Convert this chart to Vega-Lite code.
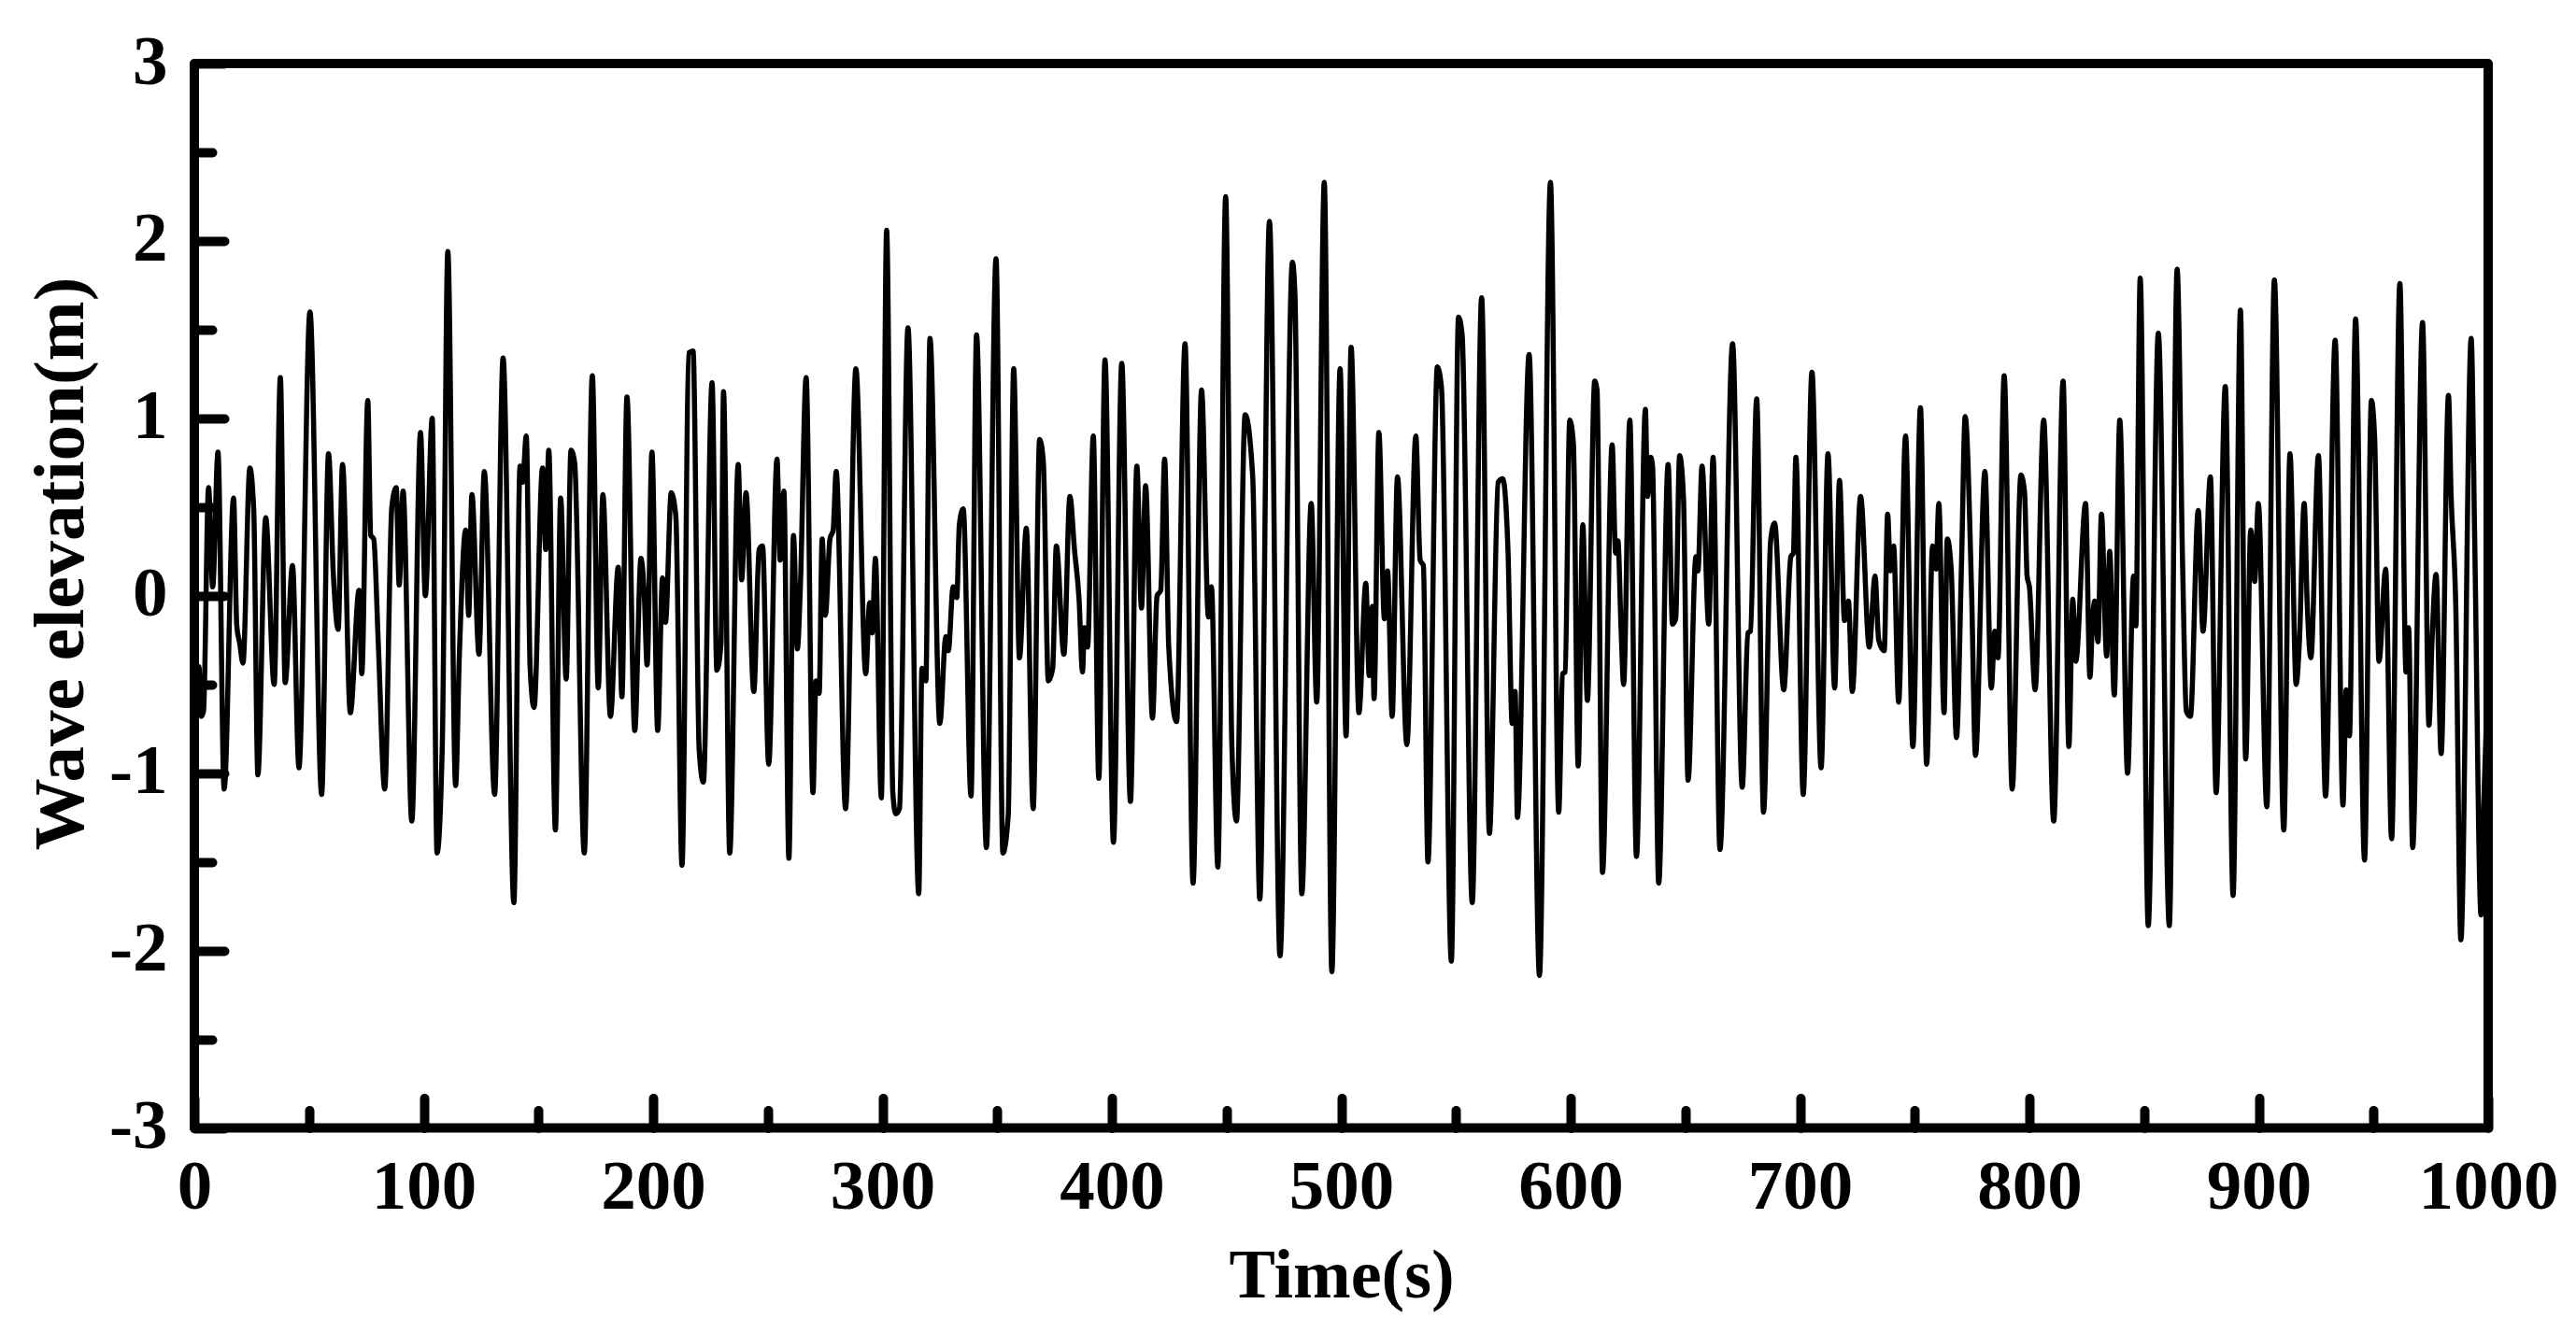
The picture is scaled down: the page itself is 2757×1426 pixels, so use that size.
{"$schema":"https://vega.github.io/schema/vega-lite/v6.json","width":2455,"height":1139.5,"autosize":{"type":"none"},"padding":{"left":208,"top":68,"right":94,"bottom":218.5},"background":"white","config":{"view":{"stroke":"black","strokeWidth":10,"strokeJoin":"round"},"axis":{"grid":false,"domain":false,"labelFont":"Liberation Serif","labelFontWeight":"bold","labelFontSize":75,"labelColor":"black","titleFont":"Liberation Serif","titleFontWeight":"bold","titleFontSize":74,"titleColor":"black","tickColor":"black","tickWidth":10,"tickCap":"round","labelOverlap":false,"labelFlush":false}},
"data":{"values":[
{"t":0,"v":-0.2},{"t":1.5,"v":-0.5},{"t":2,"v":-0.4},{"t":3,"v":-0.68},{"t":4,"v":-0.65},{"t":6.2,"v":0.61},{"t":8,"v":0.05},{"t":10.3,"v":0.81},{"t":13,"v":-1.09},{"t":17.1,"v":0.55},{"t":18.5,"v":-0.17},{"t":19.8,"v":-0.27},{"t":21.2,"v":-0.38},{"t":24.2,"v":0.72},{"t":25.9,"v":0.48},{"t":27.7,"v":-1.01},{"t":31.1,"v":0.44},{"t":34.8,"v":-0.5},{"t":37.5,"v":1.23},{"t":39.6,"v":-0.49},{"t":42.8,"v":0.17},{"t":45.6,"v":-0.97},{"t":50.4,"v":1.6},{"t":55.5,"v":-1.12},{"t":58.5,"v":0.8},{"t":60.6,"v":0.12},{"t":62.7,"v":-0.19},{"t":64.6,"v":0.74},{"t":68,"v":-0.66},{"t":71.8,"v":0.03},{"t":73,"v":-0.44},{"t":75.6,"v":1.1},{"t":76.9,"v":0.34},{"t":78.2,"v":0.32},{"t":80.2,"v":-0.27},{"t":83,"v":-1.09},{"t":86.1,"v":0.5},{"t":88,"v":0.61},{"t":89.3,"v":0.06},{"t":91,"v":0.59},{"t":94.8,"v":-1.27},{"t":98.6,"v":0.92},{"t":100.7,"v":0},{"t":103.7,"v":1},{"t":105.8,"v":-1.45},{"t":108.1,"v":-0.84},{"t":110.5,"v":1.94},{"t":113.9,"v":-1.07},{"t":115.5,"v":-0.35},{"t":118.3,"v":0.37},{"t":119.6,"v":-0.11},{"t":121,"v":0.57},{"t":124.1,"v":-0.33},{"t":126.4,"v":0.7},{"t":130.9,"v":-1.12},{"t":134.6,"v":1.34},{"t":139.3,"v":-1.73},{"t":142,"v":0.73},{"t":143.1,"v":0.64},{"t":144.7,"v":0.9},{"t":146.4,"v":-0.41},{"t":148.1,"v":-0.63},{"t":151.8,"v":0.72},{"t":153.2,"v":0.26},{"t":154.5,"v":0.82},{"t":157.4,"v":-1.32},{"t":159.7,"v":0.55},{"t":162.1,"v":-0.47},{"t":164.2,"v":0.82},{"t":165.8,"v":0.75},{"t":170,"v":-1.45},{"t":173.5,"v":1.24},{"t":176.1,"v":-0.52},{"t":178.1,"v":0.57},{"t":181.4,"v":-0.68},{"t":184.8,"v":0.16},{"t":186.4,"v":-0.57},{"t":188.6,"v":1.12},{"t":192,"v":-0.76},
{"t":194.7,"v":0.21},{"t":196.1,"v":0.02},{"t":197.4,"v":-0.39},{"t":199.5,"v":0.81},{"t":202,"v":-0.76},{"t":204.1,"v":0.1},{"t":205.4,"v":-0.15},{"t":207.9,"v":0.58},{"t":209.9,"v":0.45},{"t":212.6,"v":-1.52},{"t":215.6,"v":1.37},{"t":217.4,"v":1.38},{"t":220.1,"v":-0.87},{"t":221.9,"v":-1.05},{"t":225.7,"v":1.2},{"t":227.8,"v":-0.42},{"t":229.6,"v":-0.27},{"t":230.7,"v":1.15},{"t":233.4,"v":-1.45},{"t":237.1,"v":0.74},{"t":238.6,"v":0.09},{"t":240.5,"v":0.58},{"t":243.9,"v":-0.54},{"t":246.2,"v":0.26},{"t":247.7,"v":0.28},{"t":250.4,"v":-0.95},{"t":254,"v":0.77},{"t":255.4,"v":0.2},{"t":257,"v":0.59},{"t":259.2,"v":-1.48},{"t":261.2,"v":0.34},{"t":262.9,"v":-0.3},{"t":264.2,"v":0.05},{"t":266.7,"v":1.23},{"t":269.7,"v":-1.11},{"t":271,"v":-0.48},{"t":272.4,"v":-0.55},{"t":273.7,"v":0.32},{"t":275.1,"v":-0.11},{"t":277.1,"v":0.32},{"t":278.5,"v":0.37},{"t":279.8,"v":0.7},{"t":283.9,"v":-1.2},{"t":288.4,"v":1.28},{"t":292.7,"v":-0.44},{"t":294.4,"v":-0.04},{"t":295.5,"v":-0.21},{"t":296.9,"v":0.21},{"t":299.5,"v":-1.14},{"t":301.8,"v":2.06},{"t":304.5,"v":-1.11},{"t":305.8,"v":-1.23},{"t":307.4,"v":-1.2},{"t":311.1,"v":1.51},{"t":315.8,"v":-1.68},{"t":317.2,"v":-0.41},{"t":318.9,"v":-0.48},{"t":320.7,"v":1.45},{"t":325,"v":-0.72},{"t":327.6,"v":-0.23},{"t":328.7,"v":-0.31},{"t":330.8,"v":0.05},{"t":332.4,"v":-0.01},{"t":333.5,"v":0.4},{"t":335.2,"v":0.49},{"t":338.6,"v":-1.13},{"t":341,"v":1.47},{"t":345.3,"v":-1.42},{"t":349.5,"v":1.9},{"t":352.5,"v":-1.45},{"t":354.8,"v":-1.24},{"t":357.2,"v":1.28},{"t":359.7,"v":-0.35},{"t":362.7,"v":0.38},{"t":365.7,"v":-1.2},{"t":368.5,"v":0.88},{"t":370.1,"v":0.76},{"t":372.3,"v":-0.48},{"t":374.2,"v":-0.41},{"t":375.8,"v":0.28},{"t":379.1,"v":-0.33},{"t":381.7,"v":0.56},{"t":383.7,"v":0.26},{"t":385.7,"v":-0.02},{"t":387.2,"v":-0.43},{"t":388,"v":-0.18},{"t":389.4,"v":-0.29},{"t":391.9,"v":0.9},
{"t":394.3,"v":-1.03},{"t":397,"v":1.33},{"t":400.7,"v":-1.39},{"t":404.3,"v":1.31},{"t":408.1,"v":-1.16},{"t":410.9,"v":0.73},{"t":412.9,"v":-0.07},{"t":414.7,"v":0.62},{"t":417.7,"v":-0.69},{"t":419.7,"v":0},{"t":421.3,"v":0.03},{"t":423,"v":0.77},{"t":424.8,"v":-0.29},{"t":428.2,"v":-0.71},{"t":431.9,"v":1.42},{"t":435.4,"v":-1.62},{"t":439.1,"v":1.16},{"t":442.1,"v":-0.12},{"t":443.4,"v":0.05},{"t":446.2,"v":-1.53},{"t":449.6,"v":2.25},{"t":452.3,"v":-0.84},{"t":454.3,"v":-1.27},{"t":458.1,"v":1.02},{"t":461.4,"v":0.67},{"t":464.5,"v":-1.71},{"t":468.7,"v":2.11},{"t":473.3,"v":-2.03},{"t":478.7,"v":1.88},{"t":479.8,"v":1.7},{"t":482.8,"v":-1.68},{"t":486.9,"v":0.52},{"t":489.3,"v":-0.6},{"t":492.6,"v":2.33},{"t":495.9,"v":-2.12},{"t":499.5,"v":1.28},{"t":502.1,"v":-0.79},{"t":504.3,"v":1.4},{"t":507.7,"v":-0.66},{"t":510.7,"v":0.07},{"t":512.2,"v":-0.45},{"t":513.5,"v":-0.06},{"t":514.3,"v":-0.58},{"t":516.4,"v":0.92},{"t":518.8,"v":-0.13},{"t":520.2,"v":0.14},{"t":522.2,"v":-0.68},{"t":524.5,"v":0.67},{"t":528.6,"v":-0.84},{"t":532.5,"v":0.9},{"t":534.4,"v":0.2},{"t":535.8,"v":0.17},{"t":537.8,"v":-1.5},{"t":541.9,"v":1.29},{"t":543.7,"v":1.17},{"t":548,"v":-2.06},{"t":551.1,"v":1.57},{"t":552.7,"v":1.47},{"t":557.1,"v":-1.73},{"t":561.2,"v":1.68},{"t":564.6,"v":-1.34},{"t":568.4,"v":0.64},{"t":570.4,"v":0.66},{"t":572.7,"v":0.25},{"t":574.5,"v":-0.72},{"t":575.8,"v":-0.54},{"t":576.8,"v":-1.25},{"t":581.9,"v":1.36},{"t":586.4,"v":-2.14},{"t":591.2,"v":2.33},
{"t":594.8,"v":-1.22},{"t":596.5,"v":-0.44},{"t":597.6,"v":-0.43},{"t":599.6,"v":0.99},{"t":601.2,"v":0.86},{"t":603.3,"v":-0.96},{"t":605.3,"v":0.4},{"t":607.3,"v":-0.59},{"t":610.5,"v":1.21},{"t":611.5,"v":1.16},{"t":613.9,"v":-1.56},{"t":618.1,"v":0.85},{"t":619.6,"v":0.24},{"t":620.6,"v":0.31},{"t":622,"v":-0.19},{"t":623.1,"v":-0.5},{"t":625.8,"v":0.99},{"t":628.7,"v":-1.47},{"t":632.6,"v":1.05},{"t":633.5,"v":0.56},{"t":634.9,"v":0.78},{"t":635.7,"v":0.73},{"t":638.4,"v":-1.62},{"t":642.5,"v":0.74},{"t":644.4,"v":-0.16},{"t":645.8,"v":-0.13},{"t":647.5,"v":0.79},{"t":649.2,"v":0.55},{"t":651.2,"v":-1.04},{"t":654.6,"v":0.22},{"t":655.5,"v":0.14},{"t":657.3,"v":0.73},{"t":660.2,"v":-0.16},{"t":662.1,"v":0.78},{"t":665.1,"v":-1.43},{"t":670.6,"v":1.42},{"t":674.8,"v":-1.08},{"t":677.3,"v":-0.21},{"t":678.4,"v":-0.2},{"t":681.1,"v":1.11},{"t":684.1,"v":-1.22},{"t":687.2,"v":0.31},{"t":688.9,"v":0.41},{"t":692.9,"v":-0.53},{"t":696,"v":0.22},{"t":697.1,"v":0.24},{"t":698.2,"v":0.78},{"t":701.4,"v":-1.12},{"t":705.2,"v":1.26},{"t":709.2,"v":-0.97},{"t":712.2,"v":0.8},{"t":715.1,"v":-0.52},{"t":717.2,"v":0.65},{"t":719.4,"v":-0.14},{"t":721.1,"v":-0.03},{"t":722.8,"v":-0.54},{"t":726.4,"v":0.56},{"t":730.2,"v":-0.29},{"t":732.7,"v":0.11},{"t":734.3,"v":-0.25},{"t":736.7,"v":-0.31},{"t":738.2,"v":0.46},{"t":739.4,"v":0.14},{"t":740.8,"v":0.28},{"t":743,"v":-0.6},{"t":746,"v":0.9},{"t":749.2,"v":-0.85},{"t":752.5,"v":1.06},{"t":755.2,"v":-0.95},{"t":757.8,"v":0.28},{"t":759.3,"v":0.15},{"t":760.5,"v":0.52},{"t":762.8,"v":-0.66},{"t":764.2,"v":0.32},{"t":765.9,"v":0.15},{"t":768.2,"v":-0.8},{"t":770.4,"v":0.18},{"t":772,"v":1.01},{"t":774.8,"v":0.02},{"t":776.5,"v":-0.9},{"t":780.6,"v":0.7},{"t":783.4,"v":-0.52},{"t":784.9,"v":-0.2},{"t":786.3,"v":-0.35},{"t":789,"v":1.24},{"t":792.5,"v":-1.09},
{"t":796.3,"v":0.68},{"t":797.9,"v":0.58},{"t":799,"v":0.11},{"t":800,"v":0.05},{"t":802.5,"v":-0.53},{"t":806.2,"v":0.99},{"t":810.6,"v":-1.27},{"t":814.7,"v":1.21},{"t":817.2,"v":-0.85},{"t":818.9,"v":-0.02},{"t":820.2,"v":-0.37},{"t":824.5,"v":0.52},{"t":826.4,"v":-0.46},{"t":827.5,"v":-0.14},{"t":828.5,"v":-0.03},{"t":829.9,"v":-0.26},{"t":831.4,"v":0.46},{"t":833.7,"v":-0.34},{"t":835,"v":0.25},{"t":837,"v":-0.56},{"t":839.4,"v":0.99},{"t":842.8,"v":-1},{"t":845.4,"v":0.11},{"t":846.4,"v":-0.17},{"t":848.3,"v":1.79},{"t":851.8,"v":-1.86},{"t":856.2,"v":1.48},{"t":861,"v":-1.86},{"t":864.4,"v":1.84},{"t":866.8,"v":0.17},{"t":868.4,"v":-0.65},{"t":870.2,"v":-0.68},{"t":873.6,"v":0.48},{"t":875.7,"v":-0.2},{"t":878.9,"v":0.67},{"t":881.4,"v":-1.11},{"t":885.4,"v":1.18},{"t":888.8,"v":-1.69},{"t":892,"v":1.61},{"t":894.3,"v":-0.92},{"t":896.5,"v":0.37},{"t":898.2,"v":0.08},{"t":899.8,"v":0.52},{"t":903.5,"v":-1.19},{"t":906.8,"v":1.78},{"t":910.9,"v":-1.32},{"t":913.6,"v":0.8},{"t":916.3,"v":-0.5},{"t":917.7,"v":-0.26},{"t":919.8,"v":0.52},{"t":921.1,"v":-0.04},{"t":922.7,"v":-0.35},{"t":926,"v":0.79},{"t":929.1,"v":-1.13},{"t":933.3,"v":1.44},{"t":936.7,"v":-1.18},{"t":938.1,"v":-0.53},{"t":939.5,"v":-0.79},{"t":942.2,"v":1.56},{"t":946.1,"v":-1.49},{"t":949.1,"v":1.1},{"t":950.5,"v":0.89},{"t":952.4,"v":-0.37},{"t":955.3,"v":0.15},{"t":957.9,"v":-1.37},{"t":961.5,"v":1.76},{"t":964.2,"v":-0.43},{"t":965.3,"v":-0.18},{"t":967.1,"v":-1.42},{"t":971.4,"v":1.54},{"t":974.2,"v":-0.73},{"t":975.5,"v":-0.26},{"t":977.3,"v":0.12},{"t":979.5,"v":-0.89},{"t":982.7,"v":1.13},{"t":983.8,"v":0.58},{"t":985.9,"v":-0.07},{"t":988.1,"v":-1.94},{"t":992.6,"v":1.45},{"t":994.1,"v":0.34},{"t":996.9,"v":-1.8},{"t":998,"v":-1.2},{"t":1000,"v":-0.4}
]},
"resolve":{"axis":{"x":"independent","y":"independent"}},
"layer":[
{"mark":{"type":"line","color":"black","opacity":0},
"encoding":{
"x":{"field":"t","type":"quantitative","scale":{"domain":[0,1000],"nice":false,"zero":false},"axis":{"orient":"bottom","values":[50,150,250,350,450,550,650,750,850,950],"tickSize":-19,"labels":false,"title":null}},
"y":{"field":"v","type":"quantitative","scale":{"domain":[-3,3],"nice":false},"axis":{"orient":"left","values":[-2.5,-1.5,-0.5,0.5,1.5,2.5],"tickSize":-19,"labels":false,"title":null}}}},
{"mark":{"type":"line","color":"black","strokeWidth":5.5,"strokeJoin":"round","interpolate":"monotone","clip":true},
"encoding":{
"x":{"field":"t","type":"quantitative","scale":{"domain":[0,1000],"nice":false,"zero":false},"axis":{"orient":"bottom","values":[0,100,200,300,400,500,600,700,800,900,1000],"tickSize":-32,"labelPadding":59,"labelBaseline":"top","format":"d","title":"Time(s)","titleX":1227.5,"titleY":181,"titleBaseline":"alphabetic","titleAlign":"center"}},
"y":{"field":"v","type":"quantitative","scale":{"domain":[-3,3],"nice":false},"axis":{"orient":"left","values":[-3,-2,-1,0,1,2,3],"tickSize":-32,"labelPadding":61,"labelOffset":-2,"labelExpr":"'' + datum.value","title":"Wave elevation(m)","titleFontSize":77,"titleX":-143,"titleY":535,"titleAngle":-90,"titleAlign":"center","titleBaseline":"middle"}}}}
]}
